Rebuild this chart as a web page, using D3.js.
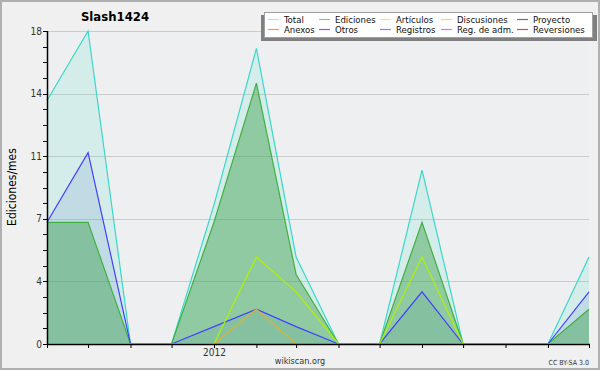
<!DOCTYPE html>
<html>
<head>
<meta charset="utf-8">
<script src="https://cdn.jsdelivr.net/npm/d3@7"></script>
<style>
	body { margin: 0; background: #f0f0f0; }
	svg { display: block; font-family: 'DejaVu Sans Condensed', 'DejaVu Sans', sans-serif; font-stretch: condensed; }
</style>
</head>
<body>
<svg id="chart" width="600" height="370"></svg>
<script>
// months Sep 2011 .. Oct 2012
const months = ['2011-09', '2011-10', '2011-11', '2011-12', '2012-01', '2012-02', '2012-03',
	'2012-04', '2012-05', '2012-06', '2012-07', '2012-08', '2012-09', '2012-10']

const total = [14, 18, 0, 0, 8, 17, 5, 0, 0, 10, 0, 0, 0, 5]
const ediciones = [7, 7, 0, 0, 7, 15, 4, 0, 0, 7, 0, 0, 0, 2]
const articulos = [0, 0, 0, 0, 0, 5, 3, 0, 0, 5, 0, 0, 0, 0]
const discusiones = [0, 0, 0, 0, 0, 2, 0, 0, 0, 0, 0, 0, 0, 0]
const registros = [7, 11, 0, 0, 1, 2, 1, 0, 0, 3, 0, 0, 0, 3]

const yTicks = [0, 3.6, 7.2, 10.8, 14.4, 18]

const legendNames = ['Total', 'Ediciones', 'Artículos', 'Discusiones', 'Proyecto',
	'Anexos', 'Otros', 'Registros', 'Reg. de adm.', 'Reversiones']
const legendColors = ['#a8e8e0', '#80cc80', '#d4f080', '#ffd070', '#707070',
	'#ff9060', '#a050e0', '#8080ff', '#e070e0', '#e04848']

const svg = d3.select('#chart')
const W = 600, H = 370
const pLeft = 47, pRight = 589, pTop = 31, pBottom = 344

const parse = d3.timeParse('%Y-%m')
const dates = months.map(parse)

const x = d3.scaleTime().domain(d3.extent(dates)).range([pLeft, pRight])
const y = d3.scaleLinear().domain([0, 18]).range([pBottom, pTop])

// frame
svg.append('rect').attr('x', 1).attr('y', 1).attr('width', W - 2).attr('height', H - 2)
	.attr('fill', '#f0f0f0').attr('stroke', '#b0b0b0').attr('stroke-width', 2)
svg.append('rect').attr('x', pLeft).attr('y', pTop).attr('width', pRight - pLeft).attr('height', pBottom - pTop)
	.attr('fill', '#eeeff1')

// grid
svg.append('g').selectAll('line').data(yTicks.slice(1)).join('line')
	.attr('x1', pLeft).attr('x2', pRight)
	.attr('y1', d => Math.round(y(d)) + 0.5).attr('y2', d => Math.round(y(d)) + 0.5)
	.attr('stroke', '#cbcbcb')
svg.append('line').attr('x1', 250).attr('x2', pLeft).attr('y1', Math.round(y(18)) + 0.5).attr('y2', Math.round(y(18)) + 0.5)
	.attr('stroke', '#cbcbcb')

const area = vals => d3.area()
	.x((d, i) => x(dates[i]))
	.y0(pBottom)
	.y1(d => y(d))(vals)
const line = vals => d3.line()
	.x((d, i) => x(dates[i]))
	.y(d => y(d))(vals)

// fills
svg.append('path').attr('d', area(total)).attr('fill', '#40e0c0').attr('fill-opacity', 0.15)
svg.append('path').attr('d', area(registros)).attr('fill', '#5080c0').attr('fill-opacity', 0.15)
svg.append('path').attr('d', area(ediciones)).attr('fill', '#38a048').attr('fill-opacity', 0.44)

// lines
const series = [
	{ vals: total, color: '#3ad8c8' },
	{ vals: ediciones, color: '#40b040' },
	{ vals: registros, color: '#4040ff' },
	{ vals: discusiones, color: '#e0b030' },
	{ vals: articulos, color: '#b4f000' },
]
series.forEach(s => {
	svg.append('path').attr('d', line(s.vals)).attr('fill', 'none')
		.attr('stroke', s.color).attr('stroke-width', 1.2)
})

// y axis
const minor = d3.range(0, 18.01, 0.9)
svg.append('g').selectAll('line').data(minor).join('line')
	.attr('x1', pLeft - 4).attr('x2', pLeft)
	.attr('y1', d => Math.round(y(d)) + 0.5).attr('y2', d => Math.round(y(d)) + 0.5)
	.attr('stroke', '#000')
svg.append('g').selectAll('text').data(yTicks).join('text')
	.attr('x', pLeft - 5).attr('y', d => y(d) + 3.5)
	.attr('text-anchor', 'end').attr('font-size', 10).attr('fill', '#333')
	.text(d => Math.round(d))
svg.append('line').attr('x1', pLeft + 0.5).attr('x2', pLeft + 0.5).attr('y1', pTop).attr('y2', pBottom + 1)
	.attr('stroke', '#000').attr('stroke-width', 1.5)

// x axis
const xAxis = d3.axisBottom(x).ticks(d3.timeMonth.every(1)).tickSize(4)
	.tickFormat(d => d.getMonth() === 0 ? d3.timeFormat('%Y')(d) : '')
const gx = svg.append('g').attr('transform', `translate(0,${pBottom})`).call(xAxis)
gx.select('.domain').attr('stroke', '#000').attr('stroke-width', 1.5).attr('d', `M${pLeft},0.5H${pRight + 1}`)
gx.selectAll('.tick line').attr('stroke', '#000')
gx.selectAll('.tick text').attr('font-size', 10).attr('fill', '#333').attr('dy', '0.5em')
	.style('font-family', "'DejaVu Sans Condensed', 'DejaVu Sans', sans-serif")

// labels
svg.append('text').attr('x', 115).attr('y', 21).attr('text-anchor', 'middle')
	.attr('font-size', 13).attr('font-weight', 'bold').attr('fill', '#000').text('Slash1424')
svg.append('text').attr('transform', 'translate(16,187) rotate(-90)').attr('text-anchor', 'middle')
	.attr('font-size', 12).attr('fill', '#000').text('Ediciones/mes')
svg.append('text').attr('x', 300).attr('y', 364).attr('text-anchor', 'middle')
	.attr('font-size', 9).attr('fill', '#333').text('wikiscan.org')
svg.append('text').attr('x', 589).attr('y', 365).attr('text-anchor', 'end')
	.attr('font-size', 7).attr('fill', '#333').text('CC BY-SA 3.0')

// legend
svg.append('rect').attr('x', 261).attr('y', 15).attr('width', 336).attr('height', 26).attr('fill', '#808080')
svg.append('rect').attr('x', 264.5).attr('y', 12.5).attr('width', 328).attr('height', 25)
	.attr('fill', '#fff').attr('stroke', '#a0a0a0')
const colX = [268, 319, 380, 441, 517]
const leg = svg.append('g').selectAll('g').data(legendNames).join('g')
	.attr('transform', (d, i) => `translate(${colX[i % 5]},${i < 5 ? 19 : 29})`)
leg.append('line').attr('x1', 0).attr('x2', 11).attr('y1', 0.5).attr('y2', 0.5)
	.attr('stroke', (d, i) => legendColors[i]).attr('stroke-width', 1.2)
leg.append('text').attr('x', 16).attr('y', 3.5).attr('font-size', 9.5).attr('fill', '#111')
	.text(d => d)
</script>
</body>
</html>
